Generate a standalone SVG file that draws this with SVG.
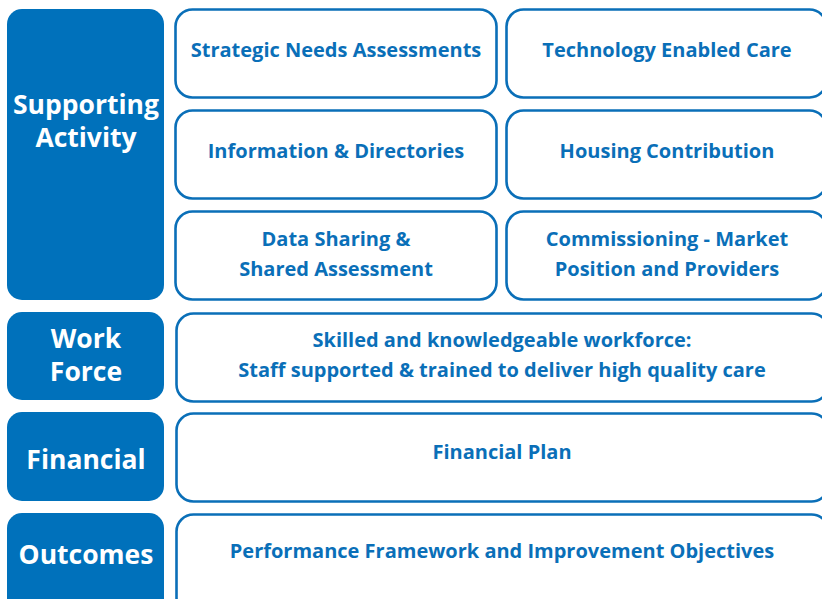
<svg xmlns="http://www.w3.org/2000/svg" width="822" height="599" viewBox="0 0 822 599">
  <style>
    .head rect { fill: #0071bb; }
    .head text { fill: #ffffff; font-family: "Open Sans", "Noto Sans", sans-serif; font-weight: 700; font-size: 26.5px; text-anchor: middle; }
    .item rect { fill: #ffffff; stroke: #0a6fb8; stroke-width: 2.6; }
    .item text { fill: #0a6fb8; font-family: "Open Sans", "Noto Sans", sans-serif; font-weight: 700; font-size: 20px; text-anchor: middle; }
  </style>
  <rect width="822" height="599" fill="#ffffff"/>

  <!-- Category headers (left column) -->
  <g id="supporting-activity" class="head">
    <rect x="7" y="9" width="157" height="291" rx="15"/>
    <text x="86" y="114">Supporting</text>
    <text x="86" y="147">Activity</text>
  </g>
  <g id="work-force" class="head">
    <rect x="7" y="312" width="157" height="88" rx="15"/>
    <text x="86" y="348">Work</text>
    <text x="86" y="381">Force</text>
  </g>
  <g id="financial" class="head">
    <rect x="7" y="412" width="157" height="89" rx="15"/>
    <text x="86" y="469">Financial</text>
  </g>
  <g id="outcomes" class="head">
    <rect x="7" y="513" width="157" height="100" rx="15"/>
    <text x="86" y="564">Outcomes</text>
  </g>

  <!-- Supporting activity items -->
  <g id="strategic-needs" class="item">
    <rect x="175.5" y="9.5" width="321" height="88" rx="17"/>
    <text x="336" y="57">Strategic Needs Assessments</text>
  </g>
  <g id="technology-care" class="item">
    <rect x="506.5" y="9.5" width="320" height="88" rx="17"/>
    <text x="667" y="57">Technology Enabled Care</text>
  </g>
  <g id="information" class="item">
    <rect x="175.5" y="110.5" width="321" height="88" rx="17"/>
    <text x="336" y="158">Information &amp; Directories</text>
  </g>
  <g id="housing" class="item">
    <rect x="506.5" y="110.5" width="320" height="88" rx="17"/>
    <text x="667" y="158">Housing Contribution</text>
  </g>
  <g id="data-sharing" class="item">
    <rect x="175.5" y="211.5" width="321" height="88" rx="17"/>
    <text x="336" y="246">Data Sharing &amp;</text>
    <text x="336" y="276">Shared Assessment</text>
  </g>
  <g id="commissioning" class="item">
    <rect x="506.5" y="211.5" width="320" height="88" rx="17"/>
    <text x="667" y="246">Commissioning - Market</text>
    <text x="667" y="276">Position and Providers</text>
  </g>

  <!-- Full-width rows -->
  <g id="workforce-item" class="item">
    <rect x="176.5" y="313.5" width="652" height="88" rx="17"/>
    <text x="502" y="347">Skilled and knowledgeable workforce:</text>
    <text x="502" y="377">Staff supported &amp; trained to deliver high quality care</text>
  </g>
  <g id="financial-plan" class="item">
    <rect x="176.5" y="413.5" width="652" height="88" rx="17"/>
    <text x="502" y="459">Financial Plan</text>
  </g>
  <g id="performance" class="item">
    <rect x="176.5" y="514.5" width="652" height="100" rx="17"/>
    <text x="502" y="558">Performance Framework and Improvement Objectives</text>
  </g>
</svg>
